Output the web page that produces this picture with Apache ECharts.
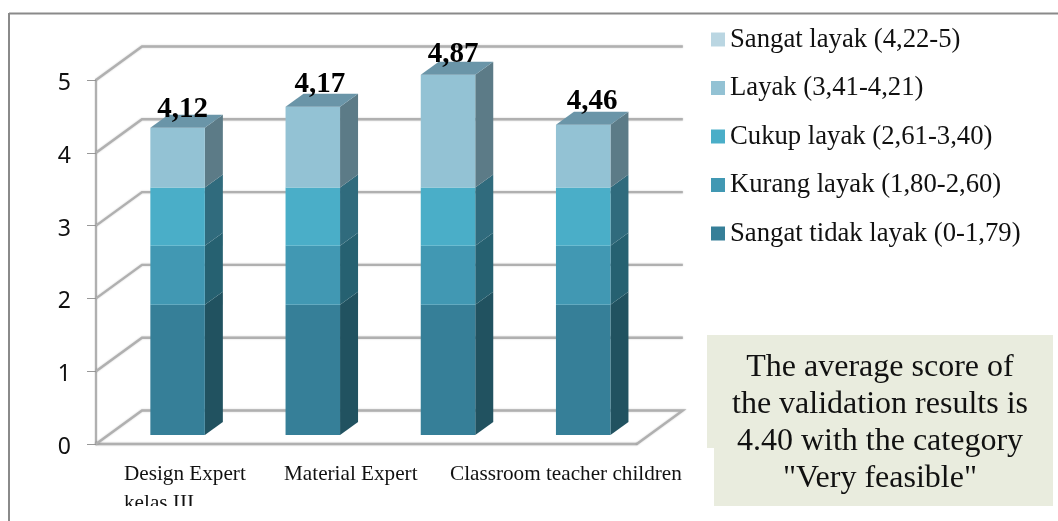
<!DOCTYPE html>
<html>
<head>
<meta charset="utf-8">
<style>
  html, body { margin: 0; padding: 0; background: #fff; }
  #chart { width: 1058px; height: 521px; }
</style>
<script src="https://cdn.jsdelivr.net/npm/echarts@6/dist/echarts.min.js"></script>
</head>
<body>
<div id="chart"></div>
<script>
const categories = ['Design Expert\nkelas III', 'Material Expert', 'Classroom teacher children', ''];
const yTicks = [0, 1, 2, 3, 4, 5];
const barLabels = ['4,12', '4,17', '4,87', '4,46'];

// stack layers, bottom to top
const sangatTidakLayak = [1.79, 1.79, 1.79, 1.79];
const kurangLayak = [0.81, 0.81, 0.81, 0.81];
const cukupLayak = [0.80, 0.80, 0.80, 0.80];
const layak = [0.82, 1.11, 1.55, 0.86];
const sangatLayak = [];

const seriesNames = [
  'Sangat tidak layak (0-1,79)',
  'Kurang layak (1,80-2,60)',
  'Cukup layak (2,61-3,40)',
  'Layak (3,41-4,21)',
  'Sangat layak (4,22-5)'
];
const noteLines = ['The average score of', 'the validation results is', '4.40 with the category', '"Very feasible"'];

const SERIF = '"Liberation Serif", serif';
const GRID_GREY = '#b0b0b0';
const front = ['#367f98', '#4198b3', '#4aaec8', '#93c2d4', '#bad6e2'];
const side = ['#215260', '#266171', '#306b7d', '#5c7b87', '#6d8a96'];
const CAP = '#6a95a8';

// 3D look: wall sits behind the axis plane, bars sit between them
const WALL_DX = 46, WALL_DY = -33.5;
const BAR_DX = 14, BAR_DY = -9;
const BAR_W = 54.5, DEPTH_X = 18, DEPTH_Y = -13;
const labelNudge = [[-1, 4], [1, 0], [-1, 2], [3, -1]];
const xLabelLeft = [124, 284, 450];

function wallItem(params, api) {
  const v = api.value(0);
  const a = api.coord([0, v]);
  const left = params.coordSys.x;
  const right = left + params.coordSys.width;
  const pts = [[left, a[1]], [left + WALL_DX, a[1] + WALL_DY], [right + WALL_DX, a[1] + WALL_DY]];
  if (v === 0) pts.push([right, a[1]]);
  return {
    type: 'polyline',
    shape: { points: pts },
    style: { stroke: GRID_GREY, lineWidth: 2.4, fill: null, shadowColor: 'rgba(0,0,0,0.2)', shadowBlur: 2 }
  };
}

function layerRender(idx, withCap) {
  return function (params, api) {
    const i = api.value(0);
    const lo = api.coord([i, api.value(1)]);
    const hi = api.coord([i, api.value(2)]);
    const x0 = lo[0] + BAR_DX - BAR_W / 2;
    const x1 = x0 + BAR_W;
    const yb = lo[1] + BAR_DY;
    const yt = hi[1] + BAR_DY;
    const children = [
      { type: 'polygon', shape: { points: [[x1, yb], [x1 + DEPTH_X, yb + DEPTH_Y], [x1 + DEPTH_X, yt + DEPTH_Y], [x1, yt]] }, style: { fill: side[idx] } },
      { type: 'rect', shape: { x: x0, y: yt, width: BAR_W, height: yb - yt }, style: { fill: front[idx] } }
    ];
    if (withCap) {
      children.push({ type: 'polygon', shape: { points: [[x0, yt], [x0 + DEPTH_X, yt + DEPTH_Y], [x1 + DEPTH_X, yt + DEPTH_Y], [x1, yt]] }, style: { fill: CAP } });
      children.push({
        type: 'text',
        style: {
          text: barLabels[i],
          x: (x0 + x1) / 2 + 6 + labelNudge[i][0],
          y: yt - 15 + labelNudge[i][1] + 7,
          align: 'center',
          verticalAlign: 'bottom',
          fill: '#000',
          font: 'bold 29px ' + SERIF
        }
      });
    }
    return { type: 'group', children };
  };
}

const layers = [sangatTidakLayak, kurangLayak, cukupLayak, layak, sangatLayak];
const running = categories.map(() => 0);
const barSeries = layers.map((vals, idx) => ({
  type: 'custom',
  name: seriesNames[idx],
  coordinateSystem: 'cartesian2d',
  itemStyle: { color: front[idx] },
  encode: { x: 0, y: [1, 2] },
  z: 5,
  clip: false,
  renderItem: layerRender(idx, idx === 3),
  data: vals.map((v, i) => {
    const row = [i, running[i], running[i] + v];
    running[i] += v;
    return row;
  })
}));

const option = {
  animation: false,
  backgroundColor: '#fff',
  grid: { left: 96, top: 80, width: 540.8, height: 364 },
  xAxis: {
    type: 'category',
    data: categories,
    axisLine: { lineStyle: { color: GRID_GREY, width: 2.4, shadowColor: 'rgba(0,0,0,0.2)', shadowBlur: 2 } },
    axisTick: { show: false },
    axisLabel: { show: false }
  },
  yAxis: {
    type: 'value',
    min: 0,
    max: 5,
    interval: 1,
    splitLine: { show: false },
    axisLine: { show: true, lineStyle: { color: GRID_GREY, width: 2.4 } },
    axisTick: { show: true, length: 9, lineStyle: { color: '#999', width: 1 } },
    axisLabel: {
      margin: 25,
      formatter: '{n|{value}}',
      rich: { n: { fontFamily: '"Noto Sans", sans-serif', fontSize: 23, color: '#111', padding: [7, 0, 0, 0] } }
    }
  },
  legend: {
    orient: 'vertical',
    left: 711,
    top: 26,
    padding: 0,
    itemWidth: 14,
    itemHeight: 14,
    itemGap: 21.5,
    icon: 'rect',
    data: seriesNames.slice().reverse(),
    selectedMode: false,
    textStyle: { fontFamily: SERIF, fontSize: 26.7, color: '#111' }
  },
  graphic: [
    { type: 'line', shape: { x1: 9, y1: 13.5, x2: 1058, y2: 13.5 }, style: { stroke: '#8a8a8a', lineWidth: 2 }, z: 1 },
    { type: 'line', shape: { x1: 9, y1: 13, x2: 9, y2: 521 }, style: { stroke: '#8a8a8a', lineWidth: 2 }, z: 1 },
    { type: 'rect', shape: { x: 707, y: 335, width: 346, height: 113 }, style: { fill: '#e9ecde' }, z: 20 },
    { type: 'rect', shape: { x: 714, y: 448, width: 339, height: 58 }, style: { fill: '#e9ecde' }, z: 20 },
    // crops the second line of the first label, as in the source image
    { type: 'rect', shape: { x: 110, y: 506, width: 180, height: 15 }, style: { fill: '#fff' }, z: 100 }
  ].concat(noteLines.map((t, i) => ({
    type: 'text',
    z: 21,
    style: { text: t, x: 880, y: 368 + i * 37, align: 'center', verticalAlign: 'middle', fill: '#111', font: '32px ' + SERIF }
  }))),
  series: [
    {
      type: 'custom',
      name: 'wall',
      coordinateSystem: 'cartesian2d',
      z: 1,
      clip: false,
      silent: true,
      encode: { y: 0 },
      renderItem: wallItem,
      data: yTicks.map(t => [t])
    },
    {
      type: 'custom',
      name: 'xlabels',
      coordinateSystem: 'cartesian2d',
      z: 6,
      clip: false,
      silent: true,
      encode: { x: 0, y: 1 },
      renderItem: function (params, api) {
        const i = api.value(0);
        if (!categories[i]) return null;
        const p = api.coord([i, 0]);
        return {
          type: 'text',
          style: { text: categories[i], x: xLabelLeft[i], y: p[1] + 16, align: 'left', verticalAlign: 'top', lineHeight: 29, fill: '#111', font: '21.2px ' + SERIF }
        };
      },
      data: categories.map((c, i) => [i, 0])
    }
  ].concat(barSeries)
};

const chart = echarts.init(document.getElementById('chart'));
chart.setOption(option);
window.addEventListener('resize', chart.resize);
</script>
</body>
</html>
